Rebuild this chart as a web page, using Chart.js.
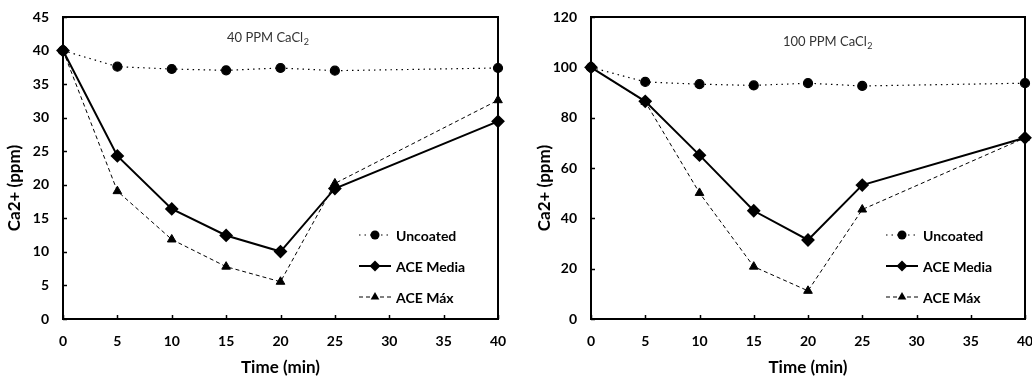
<!DOCTYPE html>
<html>
<head>
<meta charset="utf-8">
<script src="https://cdn.jsdelivr.net/npm/chart.js@4.4.1/dist/chart.umd.min.js"></script>
<style>
  html, body { margin: 0; padding: 0; background: #fff; }
  .row { display: flex; width: 1032px; height: 378px; }
  .box { width: 516px; height: 378px; }
</style>
</head>
<body>
<div class="row">
  <div class="box"><canvas id="chart40" width="516" height="378"></canvas></div>
  <div class="box"><canvas id="chart100" width="516" height="378"></canvas></div>
</div>
<script>
// sampling times (min)
const times = [0, 5, 10, 15, 20, 25, 40];
const timeTicks = [0, 5, 10, 15, 20, 25, 30, 35, 40];

// 40 PPM CaCl2
const uncoated40 = [40, 37.6, 37.25, 37.05, 37.4, 37.0, 37.4];
const media40 = [40, 24.3, 16.4, 12.45, 10.05, 19.45, 29.45];
const max40 = [40, 19.05, 11.85, 7.8, 5.55, 20.2, 32.6];

// 100 PPM CaCl2
const uncoated100 = [100, 94.2, 93.3, 92.8, 93.7, 92.6, 93.7];
const media100 = [100, 86.5, 65.1, 43.0, 31.4, 53.2, 72.0];
const max100 = [100, 86.3, 50.1, 20.8, 11.2, 43.5, 72.0];

const seriesNames = ['Uncoated', 'ACE Media', 'ACE Máx'];

const FONT = 'Lato, "Open Sans", sans-serif';

function toPoints(values) {
    return values.map((v, i) => ({ x: times[i], y: v }));
}

function buildDatasets(unc, med, mx) {
    return [
        {
            label: seriesNames[0],
            data: toPoints(unc),
            borderColor: '#000',
            backgroundColor: '#000',
            borderWidth: 1.2,
            borderDash: [1.5, 4],
            pointStyle: 'circle',
            pointRadius: 4.5,
            clip: false
        },
        {
            label: seriesNames[1],
            data: toPoints(med),
            borderColor: '#000',
            backgroundColor: '#000',
            borderWidth: 2,
            pointStyle: 'rectRot',
            pointRadius: 5.5,
            clip: false
        },
        {
            label: seriesNames[2],
            data: toPoints(mx),
            borderColor: '#000',
            backgroundColor: '#000',
            borderWidth: 1,
            borderDash: [4, 3],
            pointStyle: 'triangle',
            pointRadius: 5,
            clip: false
        }
    ];
}

// frame, inward ticks, y title, inset legend and the concentration note
const framePlugin = {
    id: 'frameDecor',
    afterDraw(chart, args, opts) {
        const { ctx, chartArea: a } = chart;
        const xs = chart.scales.x;
        const ys = chart.scales.y;
        ctx.save();

        // inward tick marks
        ctx.strokeStyle = '#000';
        ctx.lineWidth = 1.5;
        timeTicks.forEach(t => {
            const px = Math.round(xs.getPixelForValue(t)) + 0.5;
            ctx.beginPath();
            ctx.moveTo(px, a.bottom);
            ctx.lineTo(px, a.bottom - 4);
            ctx.stroke();
        });
        ys.ticks.forEach(t => {
            const py = Math.round(ys.getPixelForValue(t.value)) + 0.5;
            ctx.beginPath();
            ctx.moveTo(a.left, py);
            ctx.lineTo(a.left + 4, py);
            ctx.stroke();
        });

        // plot frame
        ctx.lineWidth = 2;
        ctx.strokeRect(a.left, a.top, a.right - a.left, a.bottom - a.top);

        // y axis title (sits a bit below the middle, as in the source)
        ctx.fillStyle = '#000';
        ctx.font = 'bold 17px ' + FONT;
        ctx.textAlign = 'center';
        ctx.textBaseline = 'middle';
        ctx.translate(opts.yTitleX, 188);
        ctx.rotate(-Math.PI / 2);
        ctx.fillText('Ca2+ (ppm)', 0, 0);
        ctx.setTransform(1, 0, 0, 1, 0, 0);

        // legend inside the plot
        const rowOffsets = [84, 53, 22];
        ctx.font = 'bold 14px ' + FONT;
        ctx.textBaseline = 'middle';
        ctx.textAlign = 'left';
        chart.data.datasets.forEach((ds, i) => {
            const y = a.bottom - rowOffsets[i];
            const x0 = a.right - 139;
            const x1 = a.right - 107;
            ctx.strokeStyle = ds.borderColor;
            ctx.lineWidth = ds.borderWidth;
            ctx.setLineDash(ds.borderDash || []);
            ctx.beginPath();
            ctx.moveTo(x0, y);
            ctx.lineTo(x1, y);
            ctx.stroke();
            ctx.setLineDash([]);
            ctx.fillStyle = '#000';
            Chart.helpers.drawPoint(ctx, { pointStyle: ds.pointStyle, radius: ds.pointRadius, rotation: 0 }, (x0 + x1) / 2, y);
            ctx.fillStyle = '#000';
            ctx.fillText(ds.label, a.right - 102, y + 1);
        });

        // "xx PPM CaCl2" with subscript
        ctx.fillStyle = '#333';
        ctx.font = '13px ' + FONT;
        ctx.textBaseline = 'alphabetic';
        const nx = a.left + opts.noteX;
        const ny = opts.noteY;
        ctx.fillText(opts.note, nx, ny);
        const w = ctx.measureText(opts.note).width;
        ctx.font = '9px ' + FONT;
        ctx.fillText('2', nx + w + 0.5, ny + 3);

        ctx.restore();
    }
};

function makeChart(id, datasets, yMax, yStep, yAxisWidth, padRight, yTitleX, note, noteX, noteY) {
    const el = document.getElementById(id);
    return new Chart(el, {
        type: 'line',
        data: { datasets: datasets },
        options: {
            responsive: false,
            animation: false,
            layout: { autoPadding: false, padding: { left: 0, right: padRight, top: 17, bottom: 0 } },
            plugins: {
                legend: { display: false },
                tooltip: { enabled: false },
                frameDecor: { note: note, noteX: noteX, noteY: noteY, yTitleX: yTitleX }
            },
            scales: {
                x: {
                    type: 'linear',
                    min: 0,
                    max: 40,
                    afterBuildTicks: s => { s.ticks = timeTicks.map(v => ({ value: v })); },
                    afterFit: s => { s.height = 59; s.paddingLeft = 0; s.paddingRight = 0; },
                    grid: { display: false, drawTicks: false },
                    border: { display: false },
                    ticks: {
                        color: '#000',
                        padding: 14,
                        maxRotation: 0,
                        font: { family: FONT, size: 14, weight: 'bold' }
                    },
                    title: {
                        display: true,
                        text: 'Time (min)',
                        color: '#000',
                        padding: { top: 0, bottom: 0 },
                        font: { family: FONT, size: 17, weight: 'bold' }
                    }
                },
                y: {
                    min: 0,
                    max: yMax,
                    afterFit: s => { s.width = yAxisWidth; s.paddingTop = 0; s.paddingBottom = 0; },
                    grid: { display: false, drawTicks: false },
                    border: { display: false },
                    ticks: {
                        stepSize: yStep,
                        color: '#000',
                        padding: 14,
                        font: { family: FONT, size: 14, weight: 'bold' }
                    }
                }
            }
        },
        plugins: [framePlugin]
    });
}

makeChart('chart40', buildDatasets(uncoated40, media40, max40), 45, 5, 63, 18, 15, '40 PPM CaCl', 164, 42);
makeChart('chart100', buildDatasets(uncoated100, media100, max100), 120, 20, 75, 7, 29, '100 PPM CaCl', 192, 46);
</script>
</body>
</html>
